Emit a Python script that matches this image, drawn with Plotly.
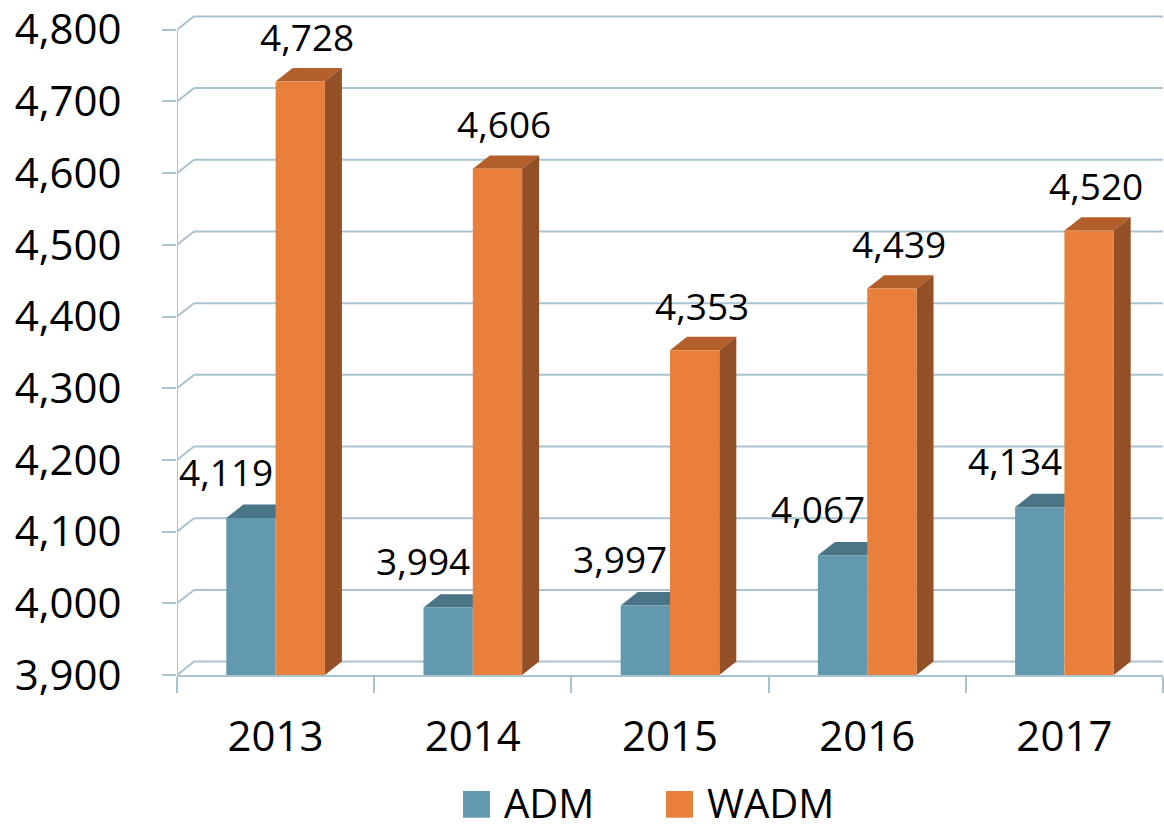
import plotly.graph_objects as go

years = ["2013", "2014", "2015", "2016", "2017"]
adm = [4119, 3994, 3997, 4067, 4134]
wadm = [4728, 4606, 4353, 4439, 4520]
y_ticks = [3900, 4000, 4100, 4200, 4300, 4400, 4500, 4600, 4700, 4800]

W, H = 1164, 836
ML, MR, MT, MB = 177, 1, 0, 161
PW, PH = W - ML - MR, H - MT - MB
Y0 = 3900
Y_SCALE = 651 / 900.0            # px per unit
Y1 = Y0 + PH / Y_SCALE
X_SCALE = PW / 5.0                # px per category
DX = 17 / X_SCALE                 # depth offset in x units
DY = 13.5 / Y_SCALE               # depth offset in y units
BW = 0.25

GRID = "#A9C3D1"
ADM_FRONT, ADM_TOP = "#6399AE", "#4A7586"
W_FRONT, W_TOP, W_SIDE = "#E8803C", "#B35F2B", "#934F26"
FONT = "Open Sans"

def px2paper(px, py):
    return (px - ML) / PW, (H - MB - py) / PH

xs = list(range(len(years)))
fig = go.Figure()
fig.add_trace(go.Bar(x=[i - BW / 2 for i in xs], y=[v - Y0 for v in adm], base=Y0,
                     width=BW, marker_color=ADM_FRONT, marker_line_width=0, name="ADM"))
fig.add_trace(go.Bar(x=[i + BW / 2 for i in xs], y=[v - Y0 for v in wadm], base=Y0,
                     width=BW, marker_color=W_FRONT, marker_line_width=0, name="WADM"))

shapes = []
# back wall gridlines + left wall diagonals
for v in y_ticks:
    shapes.append(dict(type="line", xref="x", yref="y", x0=-0.5 + DX, x1=5.0, y0=v + DY, y1=v + DY,
                       line=dict(color=GRID, width=2), layer="below"))
    shapes.append(dict(type="line", xref="x", yref="y", x0=-0.5, x1=-0.5 + DX, y0=v, y1=v + DY,
                       line=dict(color=GRID, width=2), layer="below"))
# left axis line
shapes.append(dict(type="line", xref="x", yref="y", x0=-0.5, x1=-0.5, y0=Y0, y1=y_ticks[-1],
                   line=dict(color=GRID, width=2), layer="below"))

def top_face(xl, xr, v, color):
    return dict(type="path", xref="x", yref="y",
                path=f"M {xl},{v} L {xl+DX},{v+DY} L {xr+DX},{v+DY} L {xr},{v} Z",
                fillcolor=color, line=dict(width=0), layer="between")

def side_face(xr, v, color):
    return dict(type="path", xref="x", yref="y",
                path=f"M {xr},{Y0} L {xr},{v} L {xr+DX},{v+DY} L {xr+DX},{Y0+DY} Z",
                fillcolor=color, line=dict(width=0), layer="between")

for i in xs:
    shapes.append(top_face(i - BW, i, adm[i], ADM_TOP))
    shapes.append(top_face(i, i + BW, wadm[i], W_TOP))
    shapes.append(side_face(i + BW, wadm[i], W_SIDE))

annotations = []
for i in xs:
    annotations.append(dict(x=i - BW / 2, y=adm[i], xref="x", yref="y", text=f"{adm[i]:,}",
                            showarrow=False, xshift=-25, yshift=47, yanchor="middle",
                            font=dict(family=FONT, size=37, color="black")))
    annotations.append(dict(x=i + BW / 2, y=wadm[i], xref="x", yref="y", text=f"{wadm[i]:,}",
                            showarrow=False, xshift=7, yshift=45, yanchor="middle",
                            font=dict(family=FONT, size=37, color="black")))

# manual legend
for name, color, sx in [("ADM", ADM_FRONT, 463), ("WADM", W_FRONT, 666)]:
    x0, y0 = px2paper(sx, 819)
    x1, y1 = px2paper(sx + 27, 792)
    shapes.append(dict(type="rect", xref="paper", yref="paper", x0=x0, x1=x1, y0=y0, y1=y1,
                       fillcolor=color, line=dict(width=0)))
    tx, ty = px2paper(sx + 39, 804)
    annotations.append(dict(x=tx, y=ty, xref="paper", yref="paper", text=name, showarrow=False,
                            xanchor="left", yanchor="middle",
                            font=dict(family=FONT, size=40, color="black")))

fig.update_layout(
    width=W, height=H, margin=dict(l=ML, r=MR, t=MT, b=MB),
    paper_bgcolor="white", plot_bgcolor="white",
    showlegend=False, barmode="overlay",
    shapes=shapes, annotations=annotations,
    font=dict(family=FONT, color="black"),
)
fig.update_xaxes(range=[-0.5, 4.5], tickmode="array", tickvals=xs, ticktext=years,
                 showgrid=False, zeroline=False, showline=True, linecolor=GRID, linewidth=2,
                 ticks="outside", ticklen=16, tickcolor="rgba(0,0,0,0)", ticklabelstandoff=8,
                 tickfont=dict(family=FONT, size=42, color="black"),
                 minor=dict(tick0=-0.5, dtick=1, ticks="outside", ticklen=16, tickcolor=GRID,
                            tickwidth=2, showgrid=False))
fig.update_yaxes(range=[Y0, Y1], tickmode="array", tickvals=y_ticks, tickformat=",",
                 showgrid=False, zeroline=False, showline=False, ticklabeloverflow="allow",
                 ticks="outside", ticklen=14, tickcolor=GRID, tickwidth=2, ticklabelstandoff=32,
                 tickfont=dict(family=FONT, size=42, color="black"))

fig.write_html("out.html", config={"displayModeBar": False},
               post_script="document.body.style.margin='0';document.body.style.overflow='hidden';")
